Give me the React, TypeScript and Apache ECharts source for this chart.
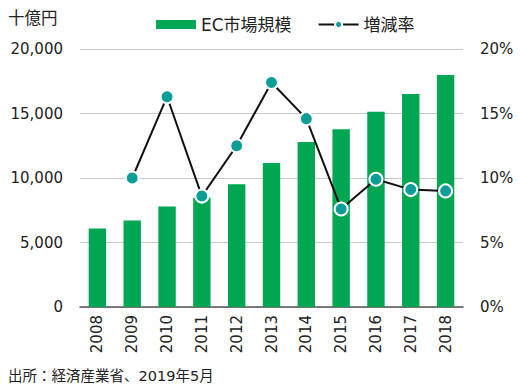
import React, { useEffect, useRef } from "react";
import * as echarts from "echarts";

const years = ["2008", "2009", "2010", "2011", "2012", "2013", "2014", "2015", "2016", "2017", "2018"];
const marketSize = [6090, 6700, 7790, 8460, 9510, 11170, 12800, 13780, 15140, 16510, 17980];
const growthRate = [null, 10.0, 16.3, 8.6, 12.5, 17.4, 14.6, 7.6, 9.9, 9.1, 9.0];

const FONT = "'DejaVu Sans', 'Noto Sans CJK JP', sans-serif";

export default function App() {
  const ref = useRef<HTMLDivElement>(null);
  useEffect(() => {
    const chart = echarts.init(ref.current!, null, { renderer: "svg" });
    chart.setOption({
      animation: false,
      textStyle: { fontFamily: FONT },
      legend: {
        top: 11,
        left: 151,
        itemWidth: 40,
        itemHeight: 9,
        itemGap: 26,
        textStyle: { fontSize: 17, color: "#222", fontFamily: FONT },
        data: [
          { name: "EC市場規模", icon: "rect" },
          { name: "増減率" },
        ],
      },
      graphic: [
        {
          type: "text",
          left: 8,
          top: 10,
          style: { text: "十億円", fontSize: 16.5, fill: "#222", fontFamily: FONT },
        },
        {
          type: "text",
          left: 8,
          top: 369,
          style: { text: "出所：経済産業省、2019年5月", fontSize: 14.5, fill: "#222", fontFamily: FONT },
        },
      ],
      grid: { left: 80, right: 57, top: 49, bottom: 84, containLabel: false },
      xAxis: {
        type: "category",
        data: years,
        axisLine: { lineStyle: { color: "#555", width: 1.5 } },
        axisTick: { show: false },
        axisLabel: { rotate: 90, fontSize: 15, color: "#222", margin: 8, fontFamily: FONT },
      },
      yAxis: [
        {
          type: "value",
          min: 0,
          max: 20000,
          interval: 5000,
          axisLine: { show: false },
          axisTick: { show: false },
          splitLine: { lineStyle: { color: "#c8c8c8", width: 1 } },
          axisLabel: {
            fontSize: 15,
            color: "#222",
            margin: 17,
            fontFamily: FONT,
            formatter: (v: number) => v.toLocaleString("en-US"),
          },
        },
        {
          type: "value",
          min: 0,
          max: 20,
          interval: 5,
          axisLine: { show: false },
          axisTick: { show: false },
          splitLine: { show: false },
          axisLabel: { fontSize: 15, color: "#222", margin: 17, fontFamily: FONT, formatter: "{value}%" },
        },
      ],
      series: [
        {
          name: "EC市場規模",
          type: "bar",
          data: marketSize,
          barWidth: "50%",
          itemStyle: { color: "#00a651" },
        },
        {
          name: "増減率",
          type: "line",
          yAxisIndex: 1,
          data: growthRate,
          symbol: "circle",
          symbolSize: 13,
          lineStyle: { color: "#111", width: 2 },
          itemStyle: { color: "#0a9e96", borderColor: "#fff", borderWidth: 2 },
        },
      ],
    });
    return () => chart.dispose();
  }, []);
  return <div ref={ref} style={{ width: 520, height: 391, position: "absolute", left: 0, top: 0 }} />;
}
